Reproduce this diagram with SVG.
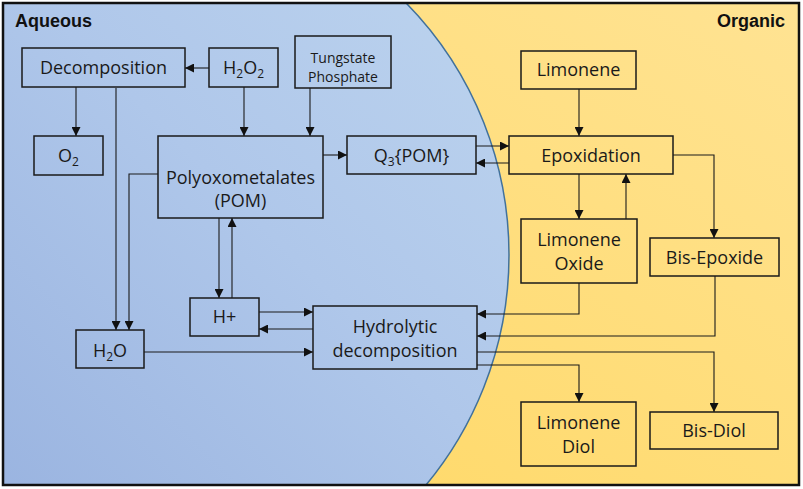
<svg xmlns="http://www.w3.org/2000/svg" width="803" height="489" viewBox="0 0 803 489">
<defs>
<linearGradient id="gBlue" x1="0" y1="1" x2="1" y2="0">
<stop offset="0" stop-color="#8DA8DA"/>
<stop offset="0.6" stop-color="#AFC7EA"/>
<stop offset="1" stop-color="#BFD6EF"/>
</linearGradient>
<linearGradient id="gOrange" x1="0" y1="1" x2="1" y2="0">
<stop offset="0" stop-color="#FFD760"/>
<stop offset="1" stop-color="#FFE393"/>
</linearGradient>
<clipPath id="frameClip"><rect x="3" y="3" width="796" height="482"/></clipPath>
<marker id="arr" viewBox="0 0 10 10" refX="10" refY="5" markerWidth="10" markerHeight="9" markerUnits="userSpaceOnUse" orient="auto">
<path d="M0,0 L10,5 L0,10 z" fill="#111"/>
</marker>
</defs>
<style>
.box{fill:none;stroke:#1a1a1a;stroke-width:1.5}
.t{font-family:"Open Sans","Liberation Sans",sans-serif;font-size:18px;fill:#1a1a1a;text-anchor:middle}
.ts{font-size:14px}
.hd{font-family:"Liberation Sans",Arial,sans-serif;font-weight:bold;font-size:18px;fill:#111}
.c{fill:none;stroke:#1a1a1a;stroke-width:1.1;marker-end:url(#arr)}
</style>
<g id="background" clip-path="url(#frameClip)">
<rect x="3" y="3" width="796" height="482" fill="url(#gOrange)"/>
<circle cx="149" cy="255" r="360" fill="url(#gBlue)" stroke="#41719C" stroke-width="1.5"/>
</g>
<rect x="3" y="3" width="796" height="482" fill="none" stroke="#111" stroke-width="2.5"/>
<text class="hd" x="15" y="27">Aqueous</text>
<text class="hd" x="785" y="27" text-anchor="end">Organic</text>

<g id="connectors">
<path class="c" d="M209,68 H185"/>
<path class="c" d="M76,87 V136"/>
<path class="c" d="M116,88 V330"/>
<path class="c" d="M158,174 H129 V330"/>
<path class="c" d="M244,87 V136"/>
<path class="c" d="M310,88 V136"/>
<path class="c" d="M323,155 H347"/>
<path class="c" d="M476,146 H509"/>
<path class="c" d="M509,163 H476"/>
<path class="c" d="M579,89 V136"/>
<path class="c" d="M579,174 V219"/>
<path class="c" d="M626,219 V174"/>
<path class="c" d="M673,155 H714 V238"/>
<path class="c" d="M219,218 V298"/>
<path class="c" d="M232,298 V218"/>
<path class="c" d="M259,312 H313"/>
<path class="c" d="M313,329 H259"/>
<path class="c" d="M144,352 H313"/>
<path class="c" d="M579,283 V314 H477"/>
<path class="c" d="M715,276 V336 H477"/>
<path class="c" d="M477,352 H714 V412"/>
<path class="c" d="M477,365 H579 V402"/>
</g>

<g id="decomposition"><rect class="box" x="22" y="48" width="163" height="39"/><text class="t" x="103.5" y="74">Decomposition</text></g>
<g id="h2o2"><rect class="box" x="209" y="48" width="69" height="39"/><text class="t" x="243.5" y="74">H<tspan font-size="12" dy="4">2</tspan><tspan dy="-4">O</tspan><tspan font-size="12" dy="4">2</tspan></text></g>
<g id="tungstate"><rect class="box" x="295" y="36" width="96" height="52"/><text class="t ts" x="343" y="63">Tungstate</text><text class="t ts" x="343" y="82">Phosphate</text></g>
<g id="o2"><rect class="box" x="34" y="136" width="69" height="39"/><text class="t" x="68.5" y="162">O<tspan font-size="12" dy="4">2</tspan></text></g>
<g id="pom"><rect class="box" x="158" y="136" width="165" height="82"/><text class="t" x="240.5" y="184">Polyoxometalates</text><text class="t" x="240.5" y="207">(POM)</text></g>
<g id="q3pom"><rect class="box" x="347" y="136" width="129" height="38"/><text class="t" x="411.5" y="162">Q<tspan font-size="12" dy="4">3</tspan><tspan dy="-4">{POM}</tspan></text></g>
<g id="limonene"><rect class="box" x="521" y="51" width="115" height="38"/><text class="t" x="578.5" y="76">Limonene</text></g>
<g id="epoxidation"><rect class="box" x="509" y="136" width="164" height="38"/><text class="t" x="591" y="162">Epoxidation</text></g>
<g id="limonene-oxide"><rect class="box" x="521" y="219" width="116" height="64"/><text class="t" x="579" y="246">Limonene</text><text class="t" x="579" y="270">Oxide</text></g>
<g id="bis-epoxide"><rect class="box" x="650" y="238" width="129" height="38"/><text class="t" x="714.5" y="264">Bis-Epoxide</text></g>
<g id="hplus"><rect class="box" x="190" y="298" width="69" height="38"/><text class="t" x="224.5" y="323">H+</text></g>
<g id="h2o"><rect class="box" x="76" y="330" width="68" height="38"/><text class="t" x="110" y="357">H<tspan font-size="12" dy="4">2</tspan><tspan dy="-4">O</tspan></text></g>
<g id="hydrolytic"><rect class="box" x="313" y="306" width="164" height="63"/><text class="t" x="395" y="333">Hydrolytic</text><text class="t" x="395" y="357">decomposition</text></g>
<g id="limonene-diol"><rect class="box" x="521" y="402" width="115" height="64"/><text class="t" x="578.5" y="429">Limonene</text><text class="t" x="578.5" y="453">Diol</text></g>
<g id="bis-diol"><rect class="box" x="650" y="412" width="128" height="37"/><text class="t" x="714" y="437">Bis-Diol</text></g>
</svg>
